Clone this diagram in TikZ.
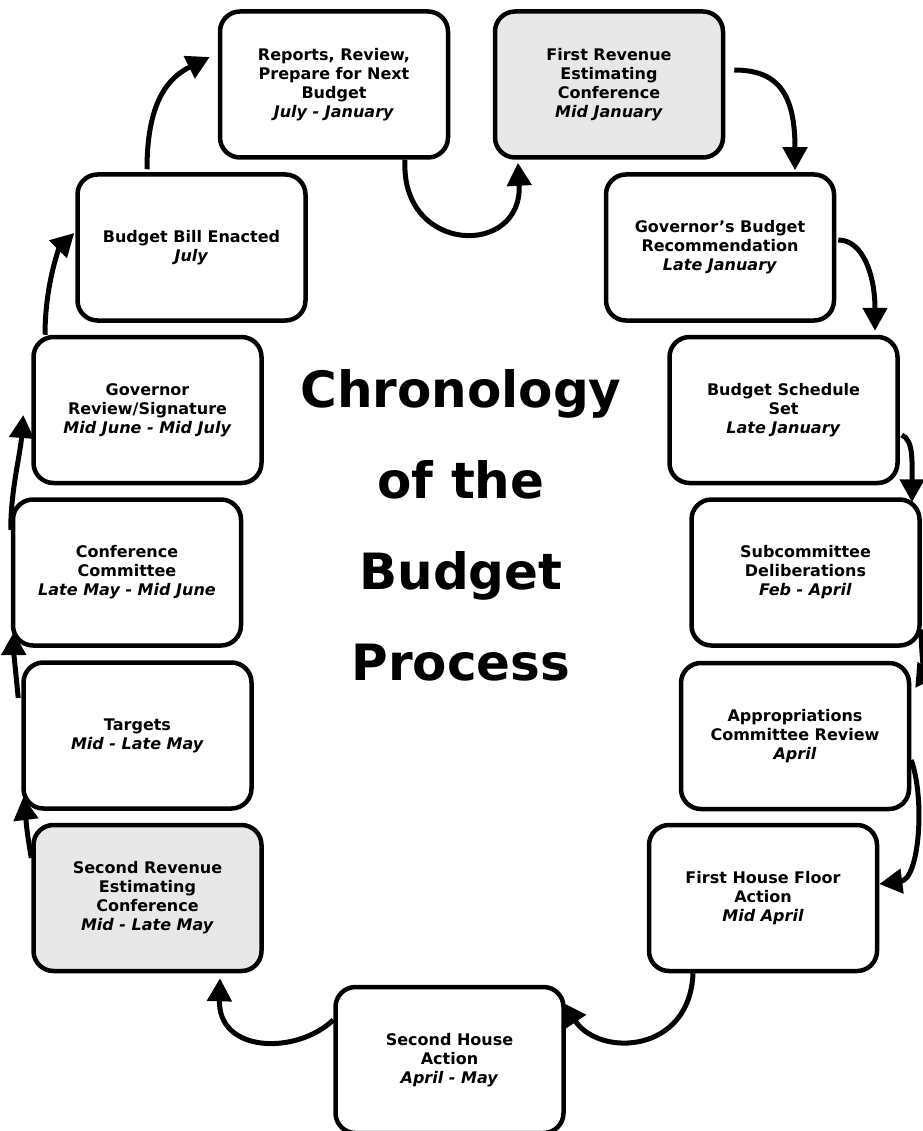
\documentclass[tikz,border=0pt]{standalone}
\usepackage{fontspec}
\setmainfont{DejaVu Sans}
\usetikzlibrary{arrows.meta}
\definecolor{revgray}{HTML}{E8E8E8}

\begin{document}
\begin{tikzpicture}[
    x=1pt, y=-1pt,
    box/.style={draw, line width=4.5pt, rounded corners=20pt, minimum width=228pt, minimum height=146pt, align=center, inner sep=2pt, font=\bfseries\fontsize{16}{19}\selectfont},
    link/.style={line width=5pt, -{Triangle[length=23pt,width=24pt]}}
  ]
  \useasboundingbox (0,0) rectangle (922,1131);
  \node[box] (reports) at (334,84.5) {Reports, Review,\\Prepare for Next\\Budget\\\textit{July - January}};
  \node[box, fill=revgray] (firstrev) at (609,84.5) {First Revenue\\Estimating\\Conference\\\textit{Mid January}};
  \node[box] (govrec) at (720,247.5) {Governor’s Budget\\Recommendation\\\textit{Late January}};
  \node[box] (sched) at (783.5,410) {Budget Schedule\\Set\\\textit{Late January}};
  \node[box] (subcomm) at (805.5,572.5) {Subcommittee\\Deliberations\\\textit{Feb - April}};
  \node[box] (approp) at (795,736) {Appropriations\\Committee Review\\\textit{April}};
  \node[box] (firsthouse) at (763,898) {First House Floor\\Action\\\textit{Mid April}};
  \node[box] (secondhouse) at (449.5,1060) {Second House\\Action\\\textit{April - May}};
  \node[box, fill=revgray] (secondrev) at (147.5,898) {Second Revenue\\Estimating\\Conference\\\textit{Mid - Late May}};
  \node[box] (targets) at (137.5,735.5) {Targets\\\textit{Mid - Late May}};
  \node[box] (confcomm) at (127,572.5) {Conference\\Committee\\\textit{Late May - Mid June}};
  \node[box] (govsign) at (147.5,410) {Governor\\Review/Signature\\\textit{Mid June - Mid July}};
  \node[box] (enacted) at (191.5,247.5) {Budget Bill Enacted\\\textit{July}};
  \node[font=\bfseries\fontsize{50}{91}\selectfont, align=center, inner sep=0pt] (title) at (461,525) {Chronology\\of the\\Budget\\Process};

  \draw[link] ([xshift=71pt]reports.south) .. controls +(-5,95) and +(5,95) .. ([xshift=-91pt,yshift=-3pt]firstrev.south);
  \draw[link] ([xshift=9pt,yshift=14.5pt]firstrev.east) .. controls +(45,0) and +(0,-75) .. ([xshift=75pt,yshift=2pt]govrec.north);
  \draw[link] ([xshift=2pt,yshift=7.5pt]govrec.east) .. controls +(25,0) and +(0,-55) .. ([xshift=91.5pt,yshift=4pt]sched.north);
  \draw[link] ([xshift=2pt,yshift=-25pt]sched.east) .. controls +(12,5) and +(0,-40) .. ([xshift=106.5pt,yshift=-5pt]subcomm.north);
  \draw[link] ([xshift=-1pt,yshift=-57pt]subcomm.east) .. controls +(2,40) and +(8,-12) .. ([xshift=4pt,yshift=48pt]approp.east);
  \draw[link] ([yshift=-24pt]approp.east) .. controls +(14,40) and +(40,-5) .. ([yshift=14pt]firsthouse.east);
  \draw[link] ([xshift=-70pt]firsthouse.south) .. controls +(-3,80) and +(37,55) .. ([xshift=113.5pt,yshift=-18pt]secondhouse.north);
  \draw[link] ([yshift=40pt]secondhouse.west) .. controls +(-37,35) and +(-2,75) .. ([xshift=72.5pt,yshift=-5pt]secondrev.south);
  \draw[link] ([yshift=40pt]secondrev.west) .. controls +(-5,-30) and +(3,25) .. ([xshift=2pt,yshift=-61.5pt]targets.west);
  \draw[link] ([xshift=-3pt,yshift=37.5pt]targets.west) .. controls +(-3,-30) and +(0,20) .. ([xshift=3pt,yshift=-59.5pt]confcomm.west);
  \draw[link] ([yshift=42.5pt]confcomm.west) .. controls +(0,-40) and +(-3,40) .. ([xshift=-8pt,yshift=-5pt]govsign.west);
  \draw[link] ([xshift=-102.5pt]govsign.north) .. controls +(0,-50) and +(-15,15) .. ([xshift=-1pt,yshift=14.5pt]enacted.west);
  \draw[link] ([xshift=-44.5pt,yshift=3pt]enacted.north) .. controls +(0,-70) and +(-40,20) .. ([xshift=-8pt,yshift=27.5pt]reports.west);
\end{tikzpicture}
\end{document}
